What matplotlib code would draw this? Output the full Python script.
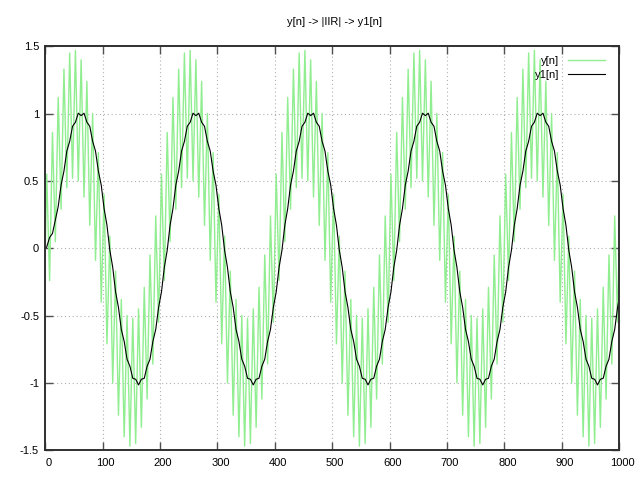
import numpy as np
import matplotlib
matplotlib.use('Agg')
import matplotlib.pyplot as plt
import matplotlib.transforms as mtransforms

plt.rcParams['font.family'] = ['Liberation Sans', 'DejaVu Sans']

# sample positions: start, then every peak/trough of the fast ripple, then end
n = np.concatenate([[0.0], np.arange(2.5, 1000, 5), [1000.0]])

# y[n] (peaks and troughs), 5 identical slow periods
y = [0.0,
     0.55, -0.24, 0.86, 0.05, 1.12, 0.29, 1.33, 0.45, 1.45, 0.52,
     1.47, 0.50, 1.40, 0.38, 1.24, 0.17, 1.00, -0.09, 0.71, -0.40,
     0.40, -0.71, 0.09, -1.00, -0.17, -1.24, -0.38, -1.40, -0.50, -1.47,
     -0.52, -1.45, -0.45, -1.33, -0.29, -1.12, -0.05, -0.86, 0.24, -0.55,
     0.55, -0.24, 0.86, 0.05, 1.12, 0.29, 1.33, 0.45, 1.45, 0.52,
     1.47, 0.50, 1.40, 0.38, 1.24, 0.17, 1.00, -0.09, 0.71, -0.40,
     0.40, -0.71, 0.09, -1.00, -0.17, -1.24, -0.38, -1.40, -0.50, -1.47,
     -0.52, -1.45, -0.45, -1.33, -0.29, -1.12, -0.05, -0.86, 0.24, -0.55,
     0.55, -0.24, 0.86, 0.05, 1.12, 0.29, 1.33, 0.45, 1.45, 0.52,
     1.47, 0.50, 1.40, 0.38, 1.24, 0.17, 1.00, -0.09, 0.71, -0.40,
     0.40, -0.71, 0.09, -1.00, -0.17, -1.24, -0.38, -1.40, -0.50, -1.47,
     -0.52, -1.45, -0.45, -1.33, -0.29, -1.12, -0.05, -0.86, 0.24, -0.55,
     0.55, -0.24, 0.86, 0.05, 1.12, 0.29, 1.33, 0.45, 1.45, 0.52,
     1.47, 0.50, 1.40, 0.38, 1.24, 0.17, 1.00, -0.09, 0.71, -0.40,
     0.40, -0.71, 0.09, -1.00, -0.17, -1.24, -0.38, -1.40, -0.50, -1.47,
     -0.52, -1.45, -0.45, -1.33, -0.29, -1.12, -0.05, -0.86, 0.24, -0.55,
     0.55, -0.24, 0.86, 0.05, 1.12, 0.29, 1.33, 0.45, 1.45, 0.52,
     1.47, 0.50, 1.40, 0.38, 1.24, 0.17, 1.00, -0.09, 0.71, -0.40,
     0.40, -0.71, 0.09, -1.00, -0.17, -1.24, -0.38, -1.40, -0.50, -1.47,
     -0.52, -1.45, -0.45, -1.33, -0.29, -1.12, -0.05, -0.86, 0.24, -0.55,
     0.0]

# y1[n] (filter output), same positions
y1 = [0.0,
      0.01, 0.08, 0.11, 0.21, 0.31, 0.469, 0.573, 0.722, 0.794, 0.906,
      0.936, 1.003, 0.985, 1.003, 0.936, 0.906, 0.794, 0.722, 0.573, 0.469,
      0.294, 0.171, -0.015, -0.141, -0.324, -0.439, -0.603, -0.692, -0.824, -0.876,
      -0.966, -0.973, -1.015, -0.973, -0.966, -0.876, -0.824, -0.692, -0.603, -0.439,
      -0.324, -0.141, -0.015, 0.171, 0.294, 0.469, 0.573, 0.722, 0.794, 0.906,
      0.936, 1.003, 0.985, 1.003, 0.936, 0.906, 0.794, 0.722, 0.573, 0.469,
      0.294, 0.171, -0.015, -0.141, -0.324, -0.439, -0.603, -0.692, -0.824, -0.876,
      -0.966, -0.973, -1.015, -0.973, -0.966, -0.876, -0.824, -0.692, -0.603, -0.439,
      -0.324, -0.141, -0.015, 0.171, 0.294, 0.469, 0.573, 0.722, 0.794, 0.906,
      0.936, 1.003, 0.985, 1.003, 0.936, 0.906, 0.794, 0.722, 0.573, 0.469,
      0.294, 0.171, -0.015, -0.141, -0.324, -0.439, -0.603, -0.692, -0.824, -0.876,
      -0.966, -0.973, -1.015, -0.973, -0.966, -0.876, -0.824, -0.692, -0.603, -0.439,
      -0.324, -0.141, -0.015, 0.171, 0.294, 0.469, 0.573, 0.722, 0.794, 0.906,
      0.936, 1.003, 0.985, 1.003, 0.936, 0.906, 0.794, 0.722, 0.573, 0.469,
      0.294, 0.171, -0.015, -0.141, -0.324, -0.439, -0.603, -0.692, -0.824, -0.876,
      -0.966, -0.973, -1.015, -0.973, -0.966, -0.876, -0.824, -0.692, -0.603, -0.439,
      -0.324, -0.141, -0.015, 0.171, 0.294, 0.469, 0.573, 0.722, 0.794, 0.906,
      0.936, 1.003, 0.985, 1.003, 0.936, 0.906, 0.794, 0.722, 0.573, 0.469,
      0.294, 0.171, -0.015, -0.141, -0.324, -0.439, -0.603, -0.692, -0.824, -0.876,
      -0.966, -0.973, -1.015, -0.973, -0.966, -0.876, -0.824, -0.692, -0.603, -0.439,
      -0.38]

xticks = [0, 100, 200, 300, 400, 500, 600, 700, 800, 900, 1000]
yticks = [-1.5, -1, -0.5, 0, 0.5, 1, 1.5]
ytick_labels = ['-1.5', '-1', '-0.5', '0', '0.5', '1', '1.5']
title = 'y[n] -> |IIR| -> y1[n]'

fs = 8
fig = plt.figure(figsize=(6.4, 4.8), dpi=100)
ax = fig.add_axes([45.3 / 640, 1 - 450.2 / 480, (619 - 45.3) / 640, (450.2 - 46.3) / 480])

ax.plot(n, y, color='#90ee90', lw=1.0, label='y[n]')
ax.plot(n, y1, color='#000000', lw=0.8, label='y1[n]')

ax.set_xlim(0, 1000)
ax.set_ylim(-1.5, 1.5)
ax.set_xticks(xticks)
ax.set_xticklabels([str(v) for v in xticks])
ax.set_yticks(yticks)
ax.set_yticklabels(ytick_labels)

ax.grid(True, color='#b0b0b0', linestyle=(0, (1, 2.5)), linewidth=0.8)
ax.tick_params(direction='in', length=6, width=1, color='#505050',
               top=True, right=True, labelsize=fs, labelcolor='black')
ax.tick_params(axis='x', pad=5.5)
ax.tick_params(axis='y', pad=4.5)
for sp in ax.spines.values():
    sp.set_linewidth(1.4)
    sp.set_color('#303030')

# gnuplot puts x labels a touch right of the ticks
off = mtransforms.ScaledTranslation(3 / 100, 0, fig.dpi_scale_trans)
for lab in ax.get_xticklabels():
    lab.set_transform(lab.get_transform() + off)

fig.text((45.3 + 619) / 2 / 640 + 0.003, 1 - 22 / 480, title, ha='center', va='center', fontsize=fs)

ax.legend(loc='upper right', bbox_to_anchor=(0.9756, 0.976), frameon=False,
          markerfirst=False, fontsize=fs, handlelength=3.3, handletextpad=0.8,
          labelspacing=0.35, borderpad=0, borderaxespad=0)

fig.savefig('out.png', dpi=100)
